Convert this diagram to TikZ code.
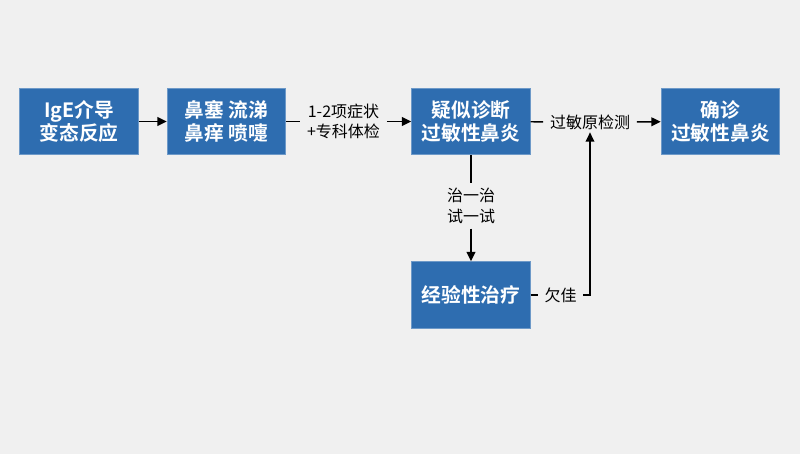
\documentclass[tikz,border=0pt]{standalone}
\usepackage{fontspec}
\setmainfont{Noto Sans CJK SC}[BoldFont={* Bold}]
\usepackage{xcolor}
\definecolor{boxblue}{HTML}{2E6DB0}
\definecolor{bggray}{HTML}{F0F0F0}
\usetikzlibrary{arrows.meta}

\begin{document}
\begin{tikzpicture}[x=0.75pt,y=0.75pt,yscale=-1,xscale=1,
	stepbox/.style={fill=boxblue,draw=boxblue!70!white,line width=0.6pt,text=white,font=\fontsize{14.8}{17.5}\selectfont\bfseries,align=center,minimum width=89pt,minimum height=50pt,inner sep=0pt},
	steplabel/.style={fill=bggray,font=\fontsize{12}{15.5}\selectfont,align=center,inner xsep=5pt,inner ysep=2pt},
	conn/.style={line width=1.1pt,black},
	arr/.style={conn,-{Triangle[length=7pt,width=6.5pt]}}]
		\fill [bggray] (0,0) rectangle (800,454);
		\useasboundingbox (0,0) rectangle (800,454);
		\node [stepbox] (ige) at (79,121.5) {IgE介导\\变态反应};
		\node [stepbox] (symp) at (226.5,121.5) {鼻塞 流涕\\鼻痒 喷嚏};
		\node [stepbox] (suspect) at (471,121.5) {疑似诊断\\过敏性鼻炎};
		\node [stepbox] (confirm) at (720.5,121.5) {确诊\\过敏性鼻炎};
		\node [stepbox] (therapy) at (471,295) {经验性治疗};
		\node [steplabel] (exam) at (343.5,121.5) {1-2项症状\\+专科体检};
		\node [steplabel] (allergen) at (590,122) {过敏原检测};
		\node [steplabel,inner ysep=3.5pt] (trial) at (471,206) {治一治\\试一试};
		\node [steplabel] (poor) at (560.5,295) {欠佳};
		\draw [arr] (ige) -- (symp);
		\draw [conn] (symp) -- (exam);
		\draw [arr] (exam) -- (suspect);
		\draw [conn] (suspect) -- (allergen);
		\draw [arr] (allergen) -- (confirm);
		\draw [conn] (suspect) -- (trial);
		\draw [arr] (trial) -- (therapy);
		\draw [conn] (therapy) -- (poor);
		\draw [arr] (poor.east) -| (allergen.south);
\end{tikzpicture}
\end{document}
